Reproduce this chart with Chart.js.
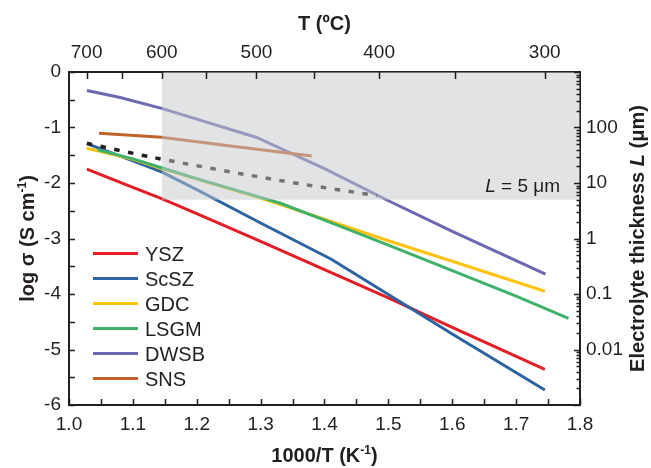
<!DOCTYPE html>
<html>
<head>
<meta charset="utf-8">
<title>Ionic conductivity of electrolytes</title>
<script src="https://cdn.jsdelivr.net/npm/chart.js@4.4.1/dist/chart.umd.min.js"></script>
<style>
  html, body { margin: 0; padding: 0; background: #fff; }
</style>
</head>
<body>
<canvas id="arrhenius" width="651" height="468"></canvas>
<script>
// conductivity data, x = 1000/T (K^-1), y = log sigma (S/cm)
const materials = ["YSZ", "ScSZ", "GDC", "LSGM", "DWSB", "SNS"];
const colors = ["#e31e26", "#2d63a0", "#ffc20e", "#40b16a", "#6c68b2", "#c4622b"];

const yszX = [1.028, 1.1, 1.145, 1.2, 1.3, 1.4, 1.5, 1.6, 1.745];
const yszY = [-1.75, -2.08, -2.28, -2.55, -3.05, -3.56, -4.07, -4.6, -5.36];
const scszX = [1.028, 1.1, 1.145, 1.2, 1.3, 1.41, 1.5, 1.6, 1.745];
const scszY = [-1.29, -1.6, -1.8, -2.12, -2.72, -3.37, -4.01, -4.72, -5.73];
const gdcX = [1.028, 1.1, 1.145, 1.2, 1.3, 1.4, 1.5, 1.6, 1.745];
const gdcY = [-1.375, -1.575, -1.74, -1.93, -2.27, -2.65, -3.04, -3.41, -3.95];
const lsgmX = [1.045, 1.1, 1.145, 1.2, 1.3, 1.33, 1.4, 1.5, 1.6, 1.7, 1.782];
const lsgmY = [-1.4, -1.565, -1.725, -1.92, -2.26, -2.36, -2.67, -3.12, -3.58, -4.04, -4.44];
const dwsbX = [1.028, 1.08, 1.145, 1.2, 1.294, 1.4, 1.5, 1.6, 1.746];
const dwsbY = [-0.335, -0.46, -0.655, -0.85, -1.18, -1.74, -2.32, -2.87, -3.64];
const snsX = [1.047, 1.145, 1.25, 1.38];
const snsY = [-1.105, -1.177, -1.33, -1.515];

// dotted reference curve
const refX = [1.028, 1.134, 1.325, 1.482];
const refY = [-1.285, -1.545, -1.945, -2.228];

const seriesX = [yszX, scszX, gdcX, lsgmX, dwsbX, snsX];
const seriesY = [yszY, scszY, gdcY, lsgmY, dwsbY, snsY];

// axes
const xMin = 1.0, xMax = 1.8;
const yMin = -6, yMax = 0;
const topTemps = [700, 650, 600, 550, 500, 450, 400, 350, 300]; // deg C
const rightLabels = [0.01, 0.1, 1, 10, 100];                     // um

// shaded window: below 600 C and thinner than 5 um
const maxTemp = 600;
const minThickness = 5;
const thicknessOffset = 3; // log L(um) = log sigma + 3

const ink = "#231f20";
const family = "'Liberation Sans', Arial, Helvetica, sans-serif";

const toInvT = t => 1000 / (t + 273.15);
const xy = (xs, ys) => xs.map((x, i) => ({ x: x, y: ys[i] }));

const datasets = materials.map((name, i) => ({
  label: name,
  data: xy(seriesX[i], seriesY[i]),
  borderColor: colors[i],
  backgroundColor: colors[i],
  borderWidth: 3,
  pointRadius: 0,
  fill: false,
  tension: 0,
  borderJoinStyle: "round",
  order: materials.length - i
}));

datasets.push({
  label: "ref",
  data: xy(refX, refY),
  borderColor: ink,
  borderWidth: 3.5,
  borderDash: [5.5, 8.5],
  pointRadius: 0,
  fill: false,
  tension: 0.3,
  order: 0.5
});

const limitY = Math.log10(minThickness) - thicknessOffset;
datasets.push({
  label: "window",
  data: [{ x: toInvT(maxTemp), y: yMax }, { x: xMax, y: yMax }],
  borderWidth: 0,
  pointRadius: 0,
  backgroundColor: "rgba(196, 199, 204, 0.5)",
  fill: { value: limitY },
  order: 0
});

// right-hand log ticks: every 1..9 per decade
function logTicks(min, max) {
  const out = [];
  for (let e = Math.round(Math.log10(min)); e < Math.round(Math.log10(max)); e++) {
    for (let m = 1; m < 10; m++) {
      out.push({ value: Number((m * Math.pow(10, e)).toPrecision(2)) });
    }
  }
  out.push({ value: max });
  return out;
}

// tick marks pointing into the plot
const inwardTicks = {
  id: "inwardTicks",
  afterDatasetsDraw(chart) {
    const { ctx, chartArea: a, scales } = chart;
    ctx.save();
    ctx.strokeStyle = ink;
    ctx.lineWidth = 1.5;
    ctx.beginPath();
    scales.x.ticks.forEach(t => {
      const p = Math.round(scales.x.getPixelForValue(t.value)) + 0.5;
      ctx.moveTo(p, a.bottom); ctx.lineTo(p, a.bottom - 6);
    });
    scales.x2.ticks.forEach(t => {
      const p = Math.round(scales.x2.getPixelForValue(t.value)) + 0.5;
      ctx.moveTo(p, a.top); ctx.lineTo(p, a.top + 7);
    });
    scales.y.ticks.forEach(t => {
      const p = Math.round(scales.y.getPixelForValue(t.value)) + 0.5;
      ctx.moveTo(a.left, p); ctx.lineTo(a.left + 6, p);
    });
    scales.y2.ticks.forEach(t => {
      const p = Math.round(scales.y2.getPixelForValue(t.value)) + 0.5;
      const decade = Math.abs(Math.log10(t.value) - Math.round(Math.log10(t.value))) < 1e-6;
      ctx.moveTo(a.right, p); ctx.lineTo(a.right - (decade ? 6 : 3.5), p);
    });
    ctx.stroke();
    ctx.restore();
  }
};

function drawRich(ctx, parts, x, y, opts) {
  opts = opts || {};
  ctx.save();
  ctx.translate(x, y);
  if (opts.rotate) ctx.rotate(-Math.PI / 2);
  let total = 0;
  parts.forEach(p => { ctx.font = p.font; p.w = ctx.measureText(p.text).width; total += p.w; });
  let cx = opts.align === "right" ? -total : -total / 2;
  ctx.fillStyle = ink;
  ctx.textAlign = "left";
  ctx.textBaseline = "alphabetic";
  parts.forEach(p => { ctx.font = p.font; ctx.fillText(p.text, cx, p.dy || 0); cx += p.w; });
  ctx.restore();
}

// legend, titles and the window label
const annotations = {
  id: "annotations",
  afterDraw(chart) {
    const { ctx, chartArea: a } = chart;
    const bold = "bold 20px " + family;
    const sup = "bold 12px " + family;

    // legend
    ctx.save();
    materials.forEach((name, i) => {
      const cy = 253.5 + i * 25;
      ctx.strokeStyle = colors[i];
      ctx.lineWidth = 3;
      ctx.beginPath();
      ctx.moveTo(93, cy); ctx.lineTo(138, cy);
      ctx.stroke();
      ctx.fillStyle = ink;
      ctx.font = "20px " + family;
      ctx.textBaseline = "alphabetic";
      ctx.fillText(name, 145, cy + 7.3);
    });
    ctx.restore();

    const midX = (a.left + a.right) / 2;
    const midY = (a.top + a.bottom) / 2;

    drawRich(ctx, [{ text: "T (ºC)", font: bold }], midX, 30);
    drawRich(ctx, [
      { text: "1000/T (K", font: bold },
      { text: "-1", font: sup, dy: -8 },
      { text: ")", font: bold }
    ], midX, 462);
    drawRich(ctx, [
      { text: "log σ (S cm", font: bold },
      { text: "-1", font: sup, dy: -8 },
      { text: ")", font: bold }
    ], 34, midY, { rotate: true });
    drawRich(ctx, [
      { text: "Electrolyte thickness ", font: bold },
      { text: "L", font: "italic bold 20px " + family },
      { text: " (μm)", font: bold }
    ], 644, midY, { rotate: true });

    drawRich(ctx, [
      { text: "L", font: "italic 19px " + family },
      { text: " = " + minThickness + " μm", font: "19px " + family }
    ], a.right - 20, chart.scales.y.getPixelForValue(limitY) - 8, { align: "right" });
  }
};

const tickStyle = { family: family, size: 19 };

new Chart(document.getElementById("arrhenius"), {
  type: "line",
  data: { datasets: datasets },
  options: {
    responsive: false,
    animation: false,
    layout: { padding: 0 },
    plugins: { legend: { display: false }, tooltip: { enabled: false } },
    scales: {
      x: {
        type: "linear", position: "bottom", min: xMin, max: xMax,
        grid: { display: false, drawTicks: false, tickLength: 0 },
        border: { display: true, width: 2, color: ink },
        ticks: {
          stepSize: 0.05, autoSkip: false, maxRotation: 0, padding: 8,
          color: ink, font: tickStyle,
          callback: v => Math.abs(v * 10 - Math.round(v * 10)) < 1e-6 ? v.toFixed(1) : ""
        },
        afterFit: s => { s.height = 63; }
      },
      x2: {
        type: "linear", position: "top", min: xMin, max: xMax,
        grid: { display: false, drawTicks: false, tickLength: 0 },
        border: { display: true, width: 2, color: ink },
        afterBuildTicks: s => { s.ticks = topTemps.map(t => ({ value: toInvT(t) })); },
        ticks: {
          autoSkip: false, maxRotation: 0, padding: 8,
          color: ink, font: tickStyle,
          callback: (v, i) => topTemps[i] % 100 === 0 ? String(topTemps[i]) : ""
        },
        afterFit: s => { s.height = 72; }
      },
      y: {
        type: "linear", position: "left", min: yMin, max: yMax,
        grid: { display: false, drawTicks: false, tickLength: 0 },
        border: { display: true, width: 2, color: ink },
        ticks: {
          stepSize: 0.5, autoSkip: false, padding: 8,
          color: ink, font: tickStyle,
          callback: v => Number.isInteger(v) ? String(v) : ""
        },
        afterFit: s => { s.width = 69; }
      },
      y2: {
        type: "logarithmic", position: "right",
        min: Math.pow(10, yMin + thicknessOffset), max: Math.pow(10, yMax + thicknessOffset),
        grid: { display: false, drawTicks: false, tickLength: 0 },
        border: { display: true, width: 2, color: ink },
        afterBuildTicks: s => { s.ticks = logTicks(s.min, s.max); },
        ticks: {
          autoSkip: false, padding: 6,
          color: ink, font: tickStyle,
          callback: v => rightLabels.includes(v) ? String(v) : ""
        },
        afterFit: s => { s.width = 71; }
      }
    }
  },
  plugins: [inwardTicks, annotations]
});
</script>
</body>
</html>
